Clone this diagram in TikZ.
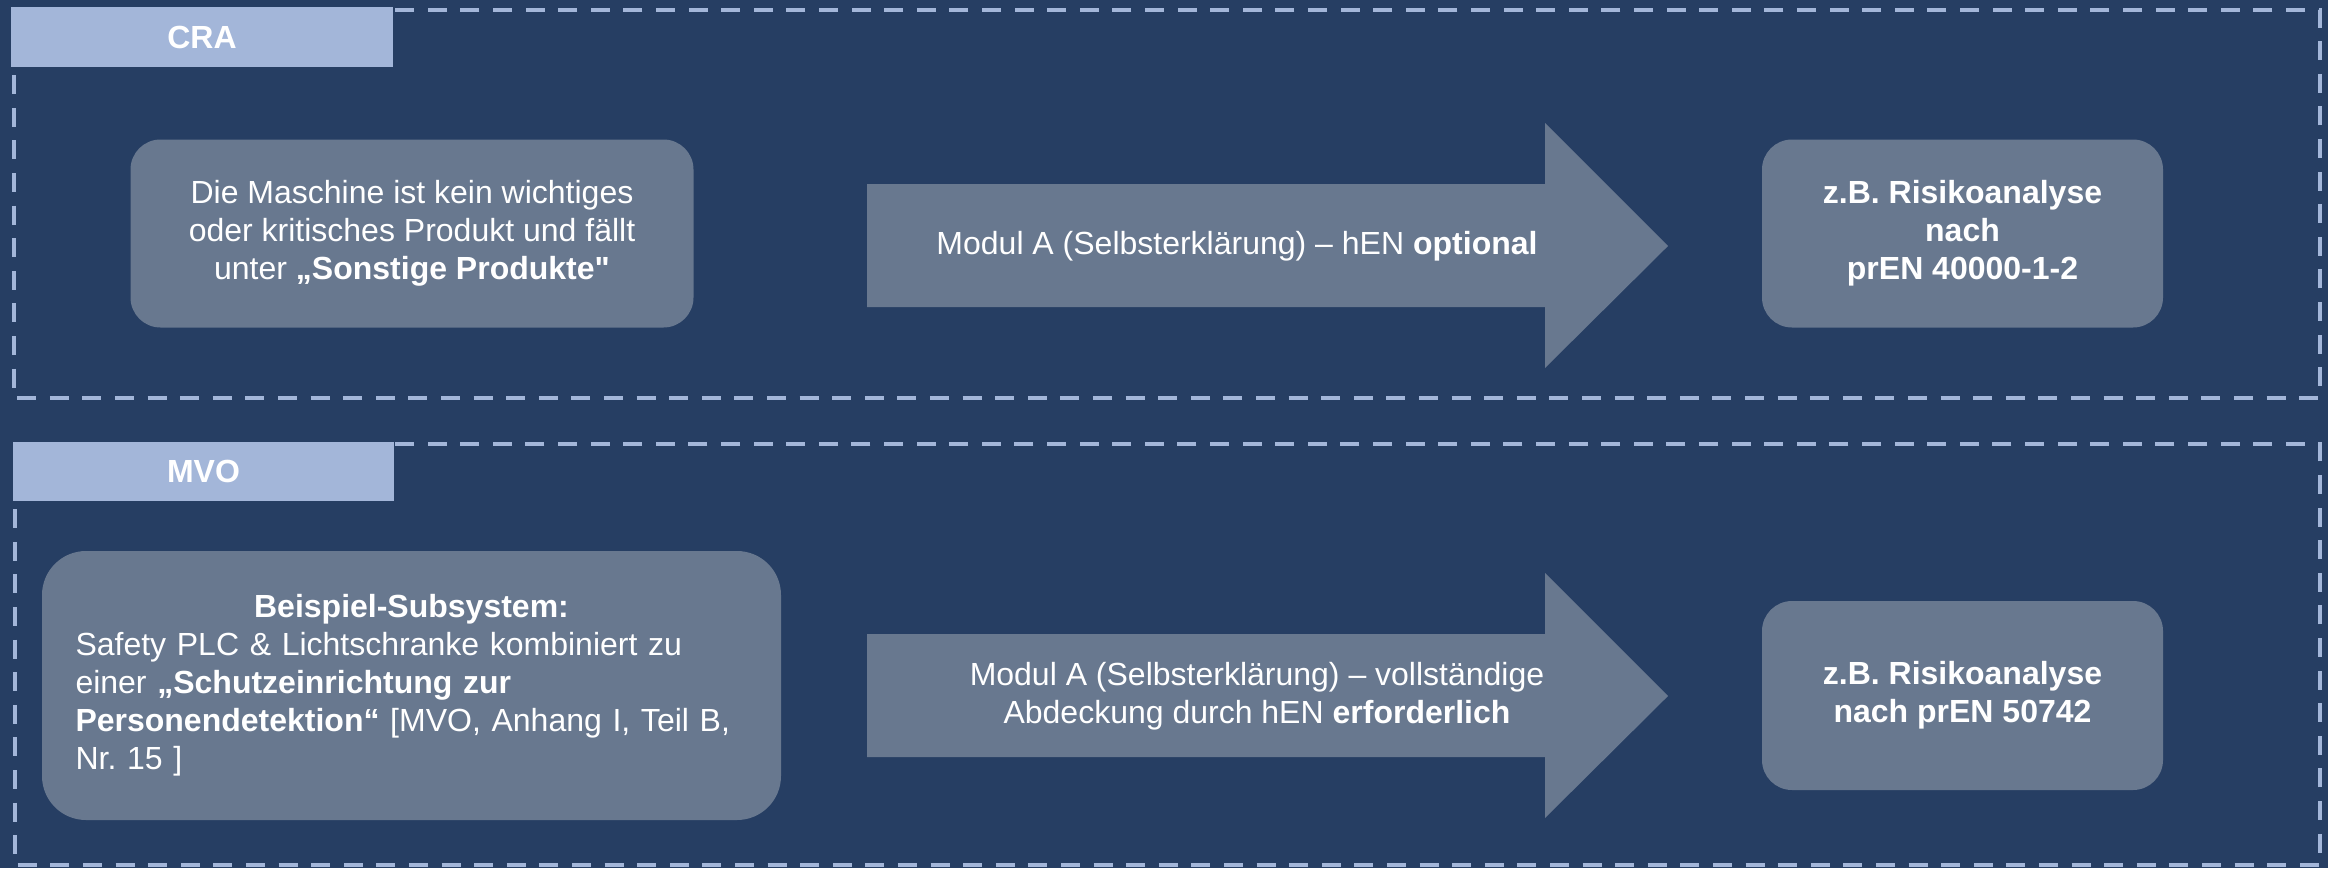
\documentclass[tikz,border=0pt]{standalone}
\usepackage{fontspec}
\setmainfont{Liberation Sans}
\usepackage{tikz}
\usetikzlibrary{arrows.meta,positioning}
\definecolor{navy}{HTML}{263E63}
\definecolor{slate}{HTML}{68788F}
\definecolor{paleblue}{HTML}{A3B6D9}
\frenchspacing

\begin{document}
\begin{tikzpicture}[x=0.5pt,y=-0.5pt,
    txt/.style={text=white,font=\fontsize{16}{19}\selectfont,inner sep=0pt},
    box/.style={txt,fill=slate,rounded corners=15pt,align=center},
    tag/.style={txt,fill=paleblue,font=\fontsize{16}{19}\selectfont\bfseries},
    frame/.style={draw=paleblue,line width=2.35pt,dash pattern=on 9.5pt off 6.8pt}]
  \useasboundingbox[fill=navy] (0,0) rectangle (2328,868);
  \draw[frame] (14,10) rectangle (2320,398);
  \draw[frame] (15,444) rectangle (2320,865);
  \node[tag,minimum width=191pt,minimum height=30pt] (cra) at (202,37) {CRA};
  \node[tag,minimum width=190.5pt,minimum height=29.5pt] (mvo) at (203.5,471.5) {MVO};
  \node[box,minimum width=281.5pt,minimum height=94pt] (craIn) at (412,233.5)
    {Die Maschine ist kein wichtiges\\oder kritisches Produkt und fällt\\unter \textbf{„Sonstige Produkte\textquotedbl}};
  \fill[slate] (867,184) -- (1545,184) -- (1545,123) -- (1668,246) -- (1545,368) -- (1545,307) -- (867,307) -- cycle;
  \node[txt] (craMod) at (1237,246) {Modul A (Selbsterklärung) – hEN \textbf{optional}};
  \node[box,font=\fontsize{16}{19}\selectfont\bfseries,minimum width=200.5pt,minimum height=94pt] (craOut) at (1962.5,233.5)
    {z.B. Risikoanalyse\\nach\\prEN 40000-1-2};
  \node[box,align=left,text width=336pt,inner xsep=16.75pt,rounded corners=22pt,minimum height=134.5pt] (mvoIn) at (411.5,685.5)
    {\makebox[\linewidth]{\textbf{Beispiel-Subsystem:}}\\
     Safety PLC \& Lichtschranke kombiniert zu\\
     einer \textbf{„Schutzeinrichtung zur}\\
     \textbf{Personendetektion“} [MVO, Anhang I, Teil B,\\
     Nr. 15 ]};
  \fill[slate] (867,634) -- (1545,634) -- (1545,573) -- (1668,696) -- (1545,818) -- (1545,757) -- (867,757) -- cycle;
  \node[txt,align=center] (mvoMod) at (1257,696) {Modul A (Selbsterklärung) – vollständige\\Abdeckung durch hEN \textbf{erforderlich}};
  \node[box,font=\fontsize{16}{19}\selectfont\bfseries,minimum width=200.5pt,minimum height=94.5pt] (mvoOut) at (1962.5,695.5)
    {z.B. Risikoanalyse\\nach prEN 50742};
\end{tikzpicture}
\end{document}
